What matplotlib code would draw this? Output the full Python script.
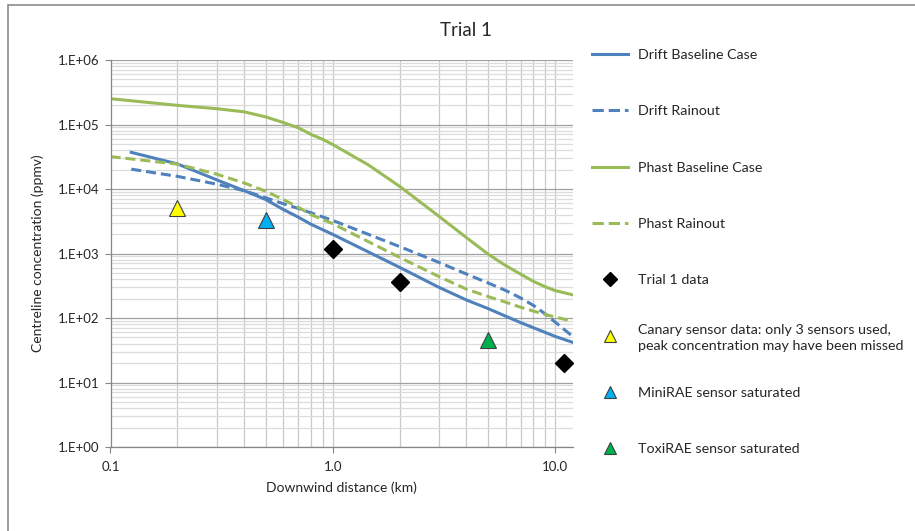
import matplotlib
matplotlib.use("Agg")
import matplotlib.pyplot as plt
from matplotlib.patches import Rectangle
from matplotlib.lines import Line2D
from matplotlib.ticker import LogLocator, FixedLocator, NullFormatter

plt.rcParams['font.family'] = ['Lato', 'DejaVu Sans']

# ---- data ----
drift_base_x = [0.124, 0.2, 0.3, 0.4, 0.5, 0.6, 0.7, 0.8, 1.0, 2.0, 3.0, 4.0, 5.0, 7.0, 10.0, 12.0]
drift_base_y = [3.7e4, 2.45e4, 1.39e4, 9.4e3, 6.85e3, 4.8e3, 3.66e3, 2.83e3, 1.98e3, 6.1e2,
                3.0e2, 1.9e2, 1.4e2, 85, 52, 42]

drift_rain_x = [0.124, 0.2, 0.3, 0.4, 0.5, 0.6, 0.7, 1.0, 2.0, 3.0, 4.0, 5.0, 6.0, 7.0, 8.0, 9.0, 10.0, 12.0]
drift_rain_y = [2.03e4, 1.57e4, 1.19e4, 9.4e3, 7.3e3, 5.9e3, 5.0e3, 3.26e3, 1.28e3, 7.3e2,
                4.8e2, 3.5e2, 2.67e2, 2.05e2, 1.57e2, 1.17e2, 87, 52]

phast_base_x = [0.1, 0.2, 0.3, 0.4, 0.5, 0.6, 0.7, 0.8, 0.9, 1.0, 1.445, 2.0, 3.0, 4.0, 5.0,
                6.0, 7.0, 8.0, 9.0, 10.0, 12.0]
phast_base_y = [2.51e5, 1.98e5, 1.76e5, 1.57e5, 1.31e5, 1.07e5, 8.9e4, 7.0e4, 5.9e4, 4.9e4,
                2.37e4, 1.1e4, 3.8e3, 1.76e3, 9.8e2, 6.5e2, 4.8e2, 3.7e2, 3.07e2, 2.67e2, 2.29e2]

phast_rain_x = [0.1, 0.2, 0.3, 0.4, 0.5, 0.6, 0.7, 0.8, 1.0, 2.0, 3.0, 4.0, 5.0, 6.0, 7.0,
                8.0, 9.0, 10.0, 12.0]
phast_rain_y = [3.18e4, 2.43e4, 1.7e4, 1.24e4, 9.2e3, 6.85e3, 5.2e3, 4.0e3, 2.9e3, 8.7e2,
                4.4e2, 2.8e2, 2.15e2, 1.76e2, 1.47e2, 1.28e2, 1.14e2, 1.04e2, 89]

trial_x = [1.0, 2.0, 11.0]
trial_y = [1.16e3, 3.6e2, 20]

canary_x = [0.2]
canary_y = [5.0e3]
minirae_x = [0.5]
minirae_y = [3.3e3]
toxirae_x = [5.0]
toxirae_y = [46]

labels = ["Drift Baseline Case", "Drift Rainout", "Phast Baseline Case", "Phast Rainout",
          "Trial 1 data",
          "Canary sensor data: only 3 sensors used,\npeak concentration may have been missed",
          "MiniRAE sensor saturated", "ToxiRAE sensor saturated"]
y_ticks = [1, 10, 100, 1e3, 1e4, 1e5, 1e6]
y_ticklabels = ["1.E+00", "1.E+01", "1.E+02", "1.E+03", "1.E+04", "1.E+05", "1.E+06"]
x_ticks = [0.1, 1.0, 10.0]
x_ticklabels = ["0.1", "1.0", "10.0"]

BLUE = "#4F81BD"
GREEN = "#9BBB59"
TXT = "#262626"
DASH = (0, (3.3, 1.6))

fig = plt.figure(figsize=(9.15, 5.31), dpi=100)
W, H = 915, 531
ax = fig.add_axes([110.5 / W, 1 - 447 / H, (573 - 110.5) / W, (447 - 60) / H])

lw = 2.2
h1, = ax.plot(drift_base_x, drift_base_y, color=BLUE, lw=lw)
h2, = ax.plot(drift_rain_x, drift_rain_y, color=BLUE, lw=lw, linestyle=DASH)
h3, = ax.plot(phast_base_x, phast_base_y, color=GREEN, lw=lw)
h4, = ax.plot(phast_rain_x, phast_rain_y, color=GREEN, lw=lw, linestyle=DASH)
h5, = ax.plot(trial_x, trial_y, linestyle='none', marker='D', markersize=9,
              color='black', markeredgecolor='black', zorder=5)
h6, = ax.plot(canary_x, canary_y, linestyle='none', marker='^', markersize=11,
              markerfacecolor='#FFFF00', markeredgecolor='#404040', markeredgewidth=0.8, zorder=5)
h7, = ax.plot(minirae_x, minirae_y, linestyle='none', marker='^', markersize=11,
              markerfacecolor='#00B0F0', markeredgecolor='#404040', markeredgewidth=0.8, zorder=5)
h8, = ax.plot(toxirae_x, toxirae_y, linestyle='none', marker='^', markersize=11,
              markerfacecolor='#00B050', markeredgecolor='#404040', markeredgewidth=0.8, zorder=5)

ax.set_xscale('log')
ax.set_yscale('log')
ax.set_xlim(0.1, 12.06)
ax.set_ylim(1, 1e6)

ax.yaxis.set_major_locator(FixedLocator(y_ticks))
ax.set_yticklabels(y_ticklabels)
ax.yaxis.set_minor_locator(LogLocator(base=10, subs=range(2, 10), numticks=20))
ax.yaxis.set_minor_formatter(NullFormatter())
ax.xaxis.set_major_locator(FixedLocator(x_ticks))
ax.set_xticklabels(x_ticklabels)
ax.xaxis.set_minor_locator(LogLocator(base=10, subs=range(2, 10), numticks=20))
ax.xaxis.set_minor_formatter(NullFormatter())

ax.grid(True, axis='x', which='both', color='#c8c8c8', lw=0.9)
ax.grid(True, axis='y', which='major', color='#a0a0a0', lw=0.9)
ax.grid(True, axis='y', which='minor', color='#dcdcdc', lw=0.9)
ax.set_axisbelow(True)

for s in ['top', 'right']:
    ax.spines[s].set_visible(False)
for s in ['left', 'bottom']:
    ax.spines[s].set_color('#868686')
    ax.spines[s].set_linewidth(0.9)

ax.tick_params(which='major', length=4, color='#868686', labelsize=9.5, labelcolor=TXT, pad=4)
ax.tick_params(axis='x', which='major', pad=6)
ax.tick_params(which='minor', length=0)

ax.set_xlabel("Downwind distance (km)", fontsize=10, color=TXT, labelpad=6)
ax.set_ylabel("Centreline concentration (ppmv)", fontsize=10, color=TXT, labelpad=10)

fig.text(466 / W, 1 - 30 / H, "Trial 1", ha='center', va='center', fontsize=13.5, color=TXT)

# ---- legend (Excel-style: equal entry spacing, wrapped label hangs below) ----
handles = [h1, h2, h3, h4, h5, h6, h7, h8]
for i, (h, lab) in enumerate(zip(handles, labels)):
    yc = 1 - (54 + 56.3 * i) / H
    if h.get_linestyle() not in ('None', 'none', ''):
        key = Line2D([592 / W, 628 / W], [yc, yc], transform=fig.transFigure,
                     color=h.get_color(), lw=h.get_linewidth(), linestyle=h.get_linestyle())
    else:
        ms = 7 if h.get_marker() == 'D' else 8.5
        key = Line2D([610 / W], [yc], transform=fig.transFigure, linestyle='none',
                     marker=h.get_marker(), markersize=ms,
                     markerfacecolor=h.get_markerfacecolor(),
                     markeredgecolor=h.get_markeredgecolor(),
                     markeredgewidth=h.get_markeredgewidth())
    fig.add_artist(key)
    fig.text(638 / W, yc, lab, ha='left', va='center_baseline', fontsize=10.3,
             color=TXT, linespacing=1.3)

# chart-area border
fig.patches.append(Rectangle((8 / W, -0.1), 1.2, 1 - 4.5 / H + 0.1, transform=fig.transFigure,
                             fill=False, edgecolor='#8c8c8c', lw=1.2, zorder=0))

fig.savefig("out.png", dpi=100)
